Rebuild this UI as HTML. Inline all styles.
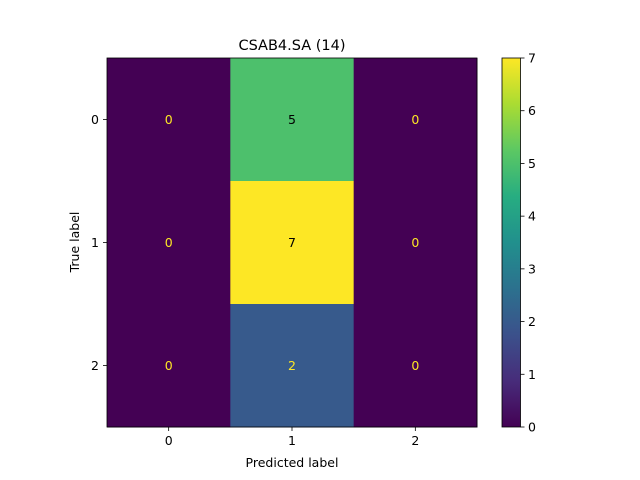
<!DOCTYPE html>
<html><head><meta charset="utf-8"><style>body{margin:0;background:#fff}svg{display:block;font-family:"DejaVu Sans","Liberation Sans",sans-serif}</style></head>
<body>
<svg id="c" width="640" height="480" viewBox="0 0 640 480">
<defs><linearGradient id="vir" x1="0" y1="1" x2="0" y2="0">
<stop offset="0" stop-color="#440154"/><stop offset="0.125" stop-color="#472c7a"/><stop offset="0.25" stop-color="#3b518b"/><stop offset="0.375" stop-color="#2c718e"/><stop offset="0.5" stop-color="#21908d"/><stop offset="0.625" stop-color="#27ad81"/><stop offset="0.75" stop-color="#5cc863"/><stop offset="0.875" stop-color="#aadc32"/><stop offset="1" stop-color="#fde725"/></linearGradient></defs>
<text x="292" y="50" font-size="14.5" text-anchor="middle">CSAB4.SA (14)</text>
<g id="cells"></g>
<rect x="502" y="58" width="18.5" height="369" fill="url(#vir)" stroke="#000" stroke-width="0.8"/>
<g id="axes"></g>
<text x="292" y="467" font-size="12.5" text-anchor="middle">Predicted label</text>
<text transform="translate(79,242) rotate(-90)" font-size="12.5" text-anchor="middle">True label</text>
</svg>
<script>
const labels=["0","1","2"];
const matrix=[[0,5,0],[0,7,0],[0,2,0]];
const cbTicks=[0,1,2,3,4,5,6,7];
const X0=107,Y0=58,W=370,H=369,vmax=7;
const NS="http://www.w3.org/2000/svg";
const stops=[[68,1,84],[71,44,122],[59,81,139],[44,113,142],[33,144,141],[39,173,129],[92,200,99],[170,220,50],[253,231,37]];
function vir(t){t=Math.max(0,Math.min(1,t))*8;const i=Math.min(7,Math.floor(t)),f=t-i,a=stops[i],b=stops[i+1];return`rgb(${a.map((v,k)=>Math.round(v+(b[k]-v)*f)).join(',')})`;}
function mk(tag,at,p){const e=document.createElementNS(NS,tag);for(const k in at)e.setAttribute(k,at[k]);p.appendChild(e);return e;}
const n=labels.length,cw=W/n,ch=H/n;
const cells=document.getElementById('cells'),ax=document.getElementById('axes');
for(let r=0;r<n;r++)for(let c=0;c<n;c++){
const v=matrix[r][c];
const rc=mk('rect',{x:X0+c*cw,y:Y0+r*ch,width:cw+0.5,height:ch+0.5,fill:vir(v/vmax)},cells);


const t=mk('text',{x:X0+(c+0.5)*cw,y:Y0+(r+0.5)*ch+4.5,'font-size':12.5,'text-anchor':'middle',fill:v/vmax>0.5?'#000':'#fde725'},cells);
t.textContent=v;


}
mk('rect',{x:X0,y:Y0,width:W,height:H,fill:'none',stroke:'#000','stroke-width':0.8},ax);
for(let i=0;i<n;i++){
const x=X0+(i+0.5)*cw,y=Y0+(i+0.5)*ch;
mk('line',{x1:x,x2:x,y1:Y0+H,y2:Y0+H+4,stroke:'#000','stroke-width':0.8},ax);
const tx=mk('text',{x:x,y:Y0+H+18,'font-size':12.5,'text-anchor':'middle'},ax);tx.textContent=labels[i];


mk('line',{x1:X0-4,x2:X0,y1:y,y2:y,stroke:'#000','stroke-width':0.8},ax);
const ty=mk('text',{x:X0-8,y:y+4.5,'font-size':12.5,'text-anchor':'end'},ax);ty.textContent=labels[i];


}
cbTicks.forEach(v=>{const y=Y0+H-v/vmax*H;
mk('line',{x1:520.5,x2:524.5,y1:y,y2:y,stroke:'#000','stroke-width':0.8},ax);
const t=mk('text',{x:528,y:y+4.5,'font-size':12.5},ax);t.textContent=v;

});
</script>
</body></html>
